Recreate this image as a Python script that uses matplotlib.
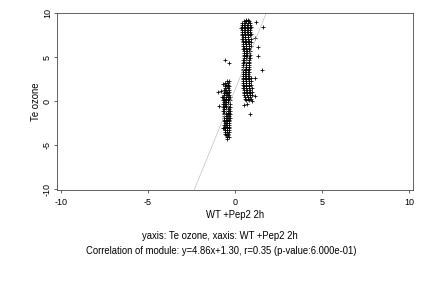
import matplotlib
matplotlib.use("Agg")
import matplotlib.pyplot as plt

plt.rcParams['font.family'] = ['Liberation Sans', 'DejaVu Sans']

# upper cluster: one y value per row, with the x values read along that row
c2_rows_y = [9.3, 9.1, 8.9, 8.7, 8.5, 8.3, 8.1, 7.9, 7.7, 7.5, 7.3, 7.1, 6.9, 6.7,
             6.5, 6.3, 6.1, 5.9, 5.7, 5.5, 5.3, 5.1, 4.9, 4.7, 4.5, 4.3, 4.1, 3.9,
             3.7, 3.5, 3.3, 3.1, 2.9, 2.7, 2.5, 2.3, 2.1, 1.9, 1.7, 1.5, 1.3, 1.1,
             0.9, 0.7, 0.5, 0.3, 0.1]
c2_rows_x = [[0.62, 0.74], [0.50, 0.66, 0.82], [0.42, 0.58, 0.74, 0.88],
             [0.38, 0.54, 0.70, 0.86], [0.40, 0.56, 0.72, 0.90],
             [0.36, 0.52, 0.68, 0.84], [0.40, 0.56, 0.72, 0.88],
             [0.38, 0.54, 0.70, 0.86], [0.42, 0.58, 0.74, 0.92],
             [0.40, 0.56, 0.72, 0.88], [0.44, 0.60, 0.76],
             [0.42, 0.58, 0.74, 0.90], [0.46, 0.62, 0.78],
             [0.44, 0.60, 0.76, 0.92], [0.48, 0.64, 0.80],
             [0.46, 0.62, 0.78, 0.94], [0.50, 0.66, 0.82], [0.48, 0.64, 0.80],
             [0.52, 0.68, 0.84], [0.50, 0.66, 0.82], [0.54, 0.70, 0.86],
             [0.50, 0.66, 0.82], [0.52, 0.68, 0.84], [0.48, 0.64, 0.80],
             [0.50, 0.66, 0.82], [0.46, 0.62, 0.78], [0.48, 0.64, 0.80],
             [0.46, 0.62, 0.78], [0.48, 0.64, 0.80], [0.44, 0.60, 0.76],
             [0.46, 0.62, 0.78], [0.44, 0.60, 0.76], [0.46, 0.62, 0.78],
             [0.44, 0.60, 0.76, 0.90], [0.48, 0.64, 0.80],
             [0.46, 0.62, 0.78, 0.92], [0.48, 0.64, 0.80],
             [0.46, 0.62, 0.78, 0.94], [0.50, 0.66, 0.82],
             [0.48, 0.64, 0.80, 0.96], [0.52, 0.68, 0.84],
             [0.50, 0.66, 0.82, 0.98], [0.54, 0.70, 0.86],
             [0.52, 0.68, 0.84, 1.00], [0.56, 0.72, 0.88],
             [0.58, 0.74, 0.92], [0.62, 0.80]]

# lower cluster
c1_rows_y = [2.3, 2.1, 1.9, 1.7, 1.5, 1.3, 1.1, 0.9, 0.7, 0.5, 0.3, 0.1, -0.1,
             -0.3, -0.5, -0.7, -0.9, -1.1, -1.3, -1.5, -1.7, -1.9, -2.1, -2.3,
             -2.5, -2.7, -2.9, -3.1, -3.3, -3.5, -3.7, -3.9, -4.1, -4.3]
c1_rows_x = [[-0.48, -0.36], [-0.56, -0.42], [-0.52, -0.38],
             [-0.60, -0.46, -0.34], [-0.56, -0.42], [-0.64, -0.50, -0.36],
             [-0.60, -0.46, -0.32], [-0.66, -0.52, -0.38],
             [-0.62, -0.48, -0.34], [-0.68, -0.54, -0.40, -0.28],
             [-0.64, -0.50, -0.36], [-0.70, -0.56, -0.42, -0.28],
             [-0.66, -0.52, -0.38], [-0.70, -0.56, -0.42, -0.28],
             [-0.66, -0.52, -0.38], [-0.68, -0.54, -0.40, -0.28],
             [-0.64, -0.50, -0.36], [-0.68, -0.54, -0.40, -0.28],
             [-0.64, -0.50, -0.36], [-0.66, -0.52, -0.38, -0.28],
             [-0.62, -0.48, -0.34], [-0.66, -0.52, -0.38, -0.28],
             [-0.62, -0.48, -0.34], [-0.64, -0.50, -0.36],
             [-0.60, -0.46, -0.32], [-0.64, -0.50, -0.36],
             [-0.60, -0.46, -0.32], [-0.62, -0.48, -0.34],
             [-0.58, -0.44, -0.32], [-0.60, -0.46, -0.34], [-0.56, -0.42],
             [-0.52, -0.38], [-0.48, -0.36], [-0.44]]

# scattered points
out_x = [-0.57, -0.35, -1.0, -0.7, -0.8, -0.75, -0.9, -0.7,
         1.6, 1.3, 1.15, 1.55, 1.15, 1.15, 0.86, 0.7, 0.5, 1.2, 1.3, 1.0]
out_y = [4.7, 4.3, 1.0, 2.0, 1.2, 0.5, -0.6, -3.0,
         8.4, 6.2, 7.2, 3.5, 2.6, 0.6, -1.4, -0.3, -0.4, 9.0, 5.2, 0.0]

slope = 4.86
intercept = 1.30
ticks = [-10, -5, 0, 5, 10]

xs, ys = list(out_x), list(out_y)
for rows_y, rows_x in [(c2_rows_y, c2_rows_x), (c1_rows_y, c1_rows_x)]:
    for yv, row in zip(rows_y, rows_x):
        xs += row
        ys += [yv] * len(row)

fig = plt.figure(figsize=(6, 4), dpi=72)
ax = fig.add_axes([0.132, 0.34, 0.824, 0.615])

ax.plot(xs, ys, ls='none', marker='+', ms=4.5, mew=0.8, color='black')
ax.axline((0, intercept), slope=slope, color='#c0c0c0', lw=0.7)

ax.set_xlim(-10.23, 10.23)
ax.set_ylim(-10.12, 10.05)
ax.set_xticks(ticks)
ax.set_yticks(ticks)
ax.set_xticklabels([str(t) for t in ticks], fontsize=9)
ax.set_yticklabels([str(t) for t in ticks], fontsize=9, rotation=90, va='center')
ax.tick_params(length=3, width=0.6)
ax.tick_params(axis='x', pad=5)
ax.tick_params(axis='y', pad=2)
for s in ax.spines.values():
    s.set_linewidth(0.8)
    s.set_color('#404040')

ax.set_xlabel('WT +Pep2 2h', fontsize=9.5, labelpad=3)
ax.set_ylabel('Te ozone', fontsize=9.5, labelpad=2)

fig.text(0.508, 0.17, 'yaxis: Te ozone, xaxis: WT +Pep2 2h', ha='center', fontsize=9.5)
fig.text(0.513, 0.118, 'Correlation of module: y=4.86x+1.30, r=0.35 (p-value:6.000e-01)',
         ha='center', fontsize=9.5)

fig.savefig('out.png', dpi=72)
